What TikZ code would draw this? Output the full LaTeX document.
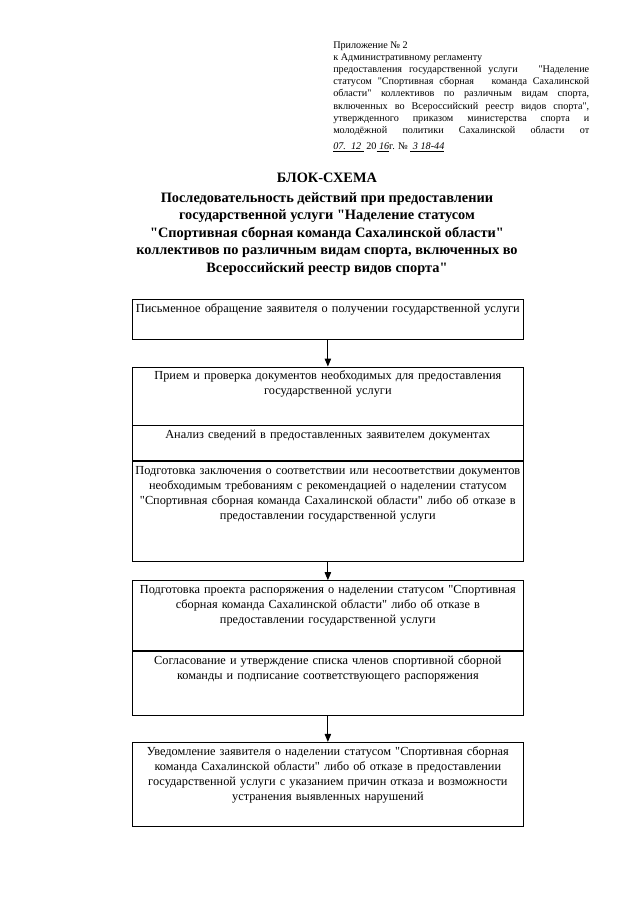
\documentclass[tikz,border=0pt]{standalone}
\usepackage{fontspec}
\setmainfont{Liberation Serif}[Ligatures=TeXOff]
\usepackage{tikz}
\usetikzlibrary{arrows.meta, positioning}

\begin{document}
\begin{tikzpicture}[
  node distance=0.88cm,
  hdr/.style={text width=8.4cm, align=justify, font=\fontsize{9.5}{11.4}\selectfont, inner sep=0pt},
  ttl/.style={align=center, font=\bfseries\fontsize{13.4}{16.4}\selectfont, inner sep=0pt},
  stepbox/.style={rectangle, draw, line width=0.8pt, text width=12.76cm, inner xsep=0.05cm, inner ysep=2pt, align=center, font=\fontsize{11.5}{14}\selectfont, text height=10pt, text depth=#1},
  arrow/.style={-{Triangle[length=7.5pt, width=6pt]}, line width=1pt}
]
\useasboundingbox (0,0) rectangle (21,-29.7);

% Header
\node[hdr, anchor=base west] (appx) at (10.93,-1.58) {Приложение № 2\\
к Административному регламенту\\
предоставления государственной услуги \ \ "Наделение\linebreak
статусом "Спортивная сборная \ \ команда Сахалинской\linebreak
области" коллективов по различным видам спорта,\linebreak
включенных во Всероссийский реестр видов спорта",\linebreak
утвержденного приказом министерства спорта и\linebreak
молодёжной политики Сахалинской области от\linebreak
\rule{0pt}{12pt}\underline{\itshape 07.\ \ 12\ } 20\underline{\itshape\ 16}г. № \underline{\itshape\ 3 18-44}\hfill\null};

% Title
\node[ttl] (title) at (10.73,-5.84) {БЛОК-СХЕМА};
\node[ttl, below=0.3cm of title] (subtitle) {Последовательность действий при предоставлении\\
государственной услуги "Наделение статусом\\
"Спортивная сборная команда Сахалинской области"\\
коллективов по различным видам спорта, включенных во\\
Всероссийский реестр видов спорта"};

% Boxes
\node[stepbox=23.3pt, anchor=north] (appl) at (10.76,-9.81) {Письменное обращение заявителя о получении государственной услуги};
\node[stepbox=40.2pt, below=of appl] (recv) {Прием и проверка документов необходимых для предоставления\\государственной услуги};
\node[stepbox=18.7pt, below=0cm of recv] (anls) {Анализ сведений в предоставленных заявителем документах};
\node[stepbox=79.4pt, below=0cm of anls] (concl) {Подготовка заключения о соответствии или несоответствии документов\\
необходимым требованиям с рекомендацией о наделении статусом\\
"Спортивная сборная команда Сахалинской области" либо об отказе в\\
предоставлении государственной услуги};
\node[stepbox=51.4pt, below=0.59cm of concl] (draft) {Подготовка проекта распоряжения о наделении статусом "Спортивная\\
сборная команда Сахалинской области" либо об отказе в\\
предоставлении государственной услуги};
\node[stepbox=45.8pt, below=0cm of draft] (agree) {Согласование и утверждение списка членов спортивной сборной\\
команды и подписание соответствующего распоряжения};
\node[stepbox=64.4pt, below=0.85cm of agree] (notif) {Уведомление заявителя о наделении статусом "Спортивная сборная\\
команда Сахалинской области" либо об отказе в предоставлении\\
государственной услуги с указанием причин отказа и возможности\\
устранения выявленных нарушений};

% Arrows
\draw[arrow] (appl.south) -- (recv.north);
\draw[arrow] (concl.south) -- (draft.north);
\draw[arrow] (agree.south) -- (notif.north);

\end{tikzpicture}
\end{document}
